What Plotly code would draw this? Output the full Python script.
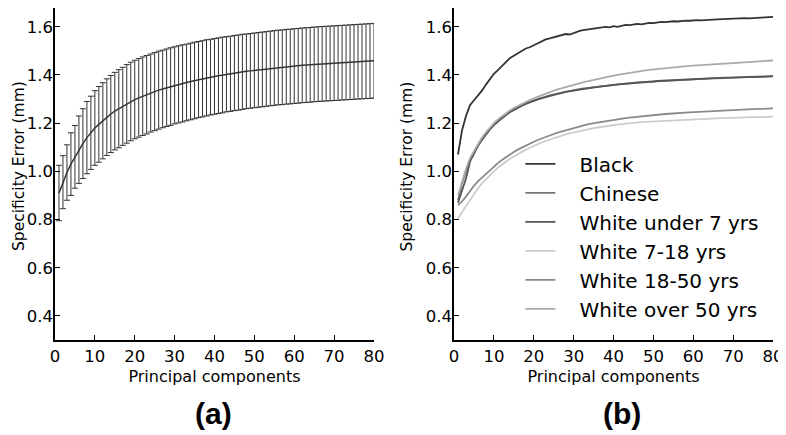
import plotly.graph_objects as go

pcs = list(range(1, 81))

mean_a = [0.91, 0.955, 0.995, 1.03, 1.06, 1.09, 1.115, 1.14, 1.16, 1.18,
          1.195, 1.21, 1.225, 1.238, 1.25, 1.26, 1.27, 1.28, 1.29, 1.298,
          1.305, 1.312, 1.318, 1.325, 1.331, 1.337, 1.342, 1.347, 1.352, 1.357,
          1.361, 1.365, 1.369, 1.373, 1.377, 1.381, 1.384, 1.388, 1.391, 1.394,
          1.397, 1.400, 1.403, 1.405, 1.408, 1.410, 1.413, 1.415, 1.417, 1.419,
          1.421, 1.423, 1.425, 1.427, 1.429, 1.431, 1.432, 1.434, 1.435, 1.437,
          1.438, 1.440, 1.441, 1.442, 1.444, 1.445, 1.446, 1.447, 1.448, 1.449,
          1.450, 1.451, 1.452, 1.453, 1.454, 1.455, 1.456, 1.457, 1.458, 1.459]

std_a = [0.115, 0.11, 0.115, 0.13, 0.13, 0.14, 0.145, 0.15, 0.152, 0.155,
         0.157, 0.158, 0.159, 0.16, 0.161, 0.162, 0.162, 0.163, 0.163, 0.163,
         0.163, 0.163, 0.163, 0.162, 0.162, 0.162, 0.161, 0.161, 0.161, 0.160,
         0.160, 0.160, 0.159, 0.159, 0.159, 0.158, 0.158, 0.158, 0.157, 0.157,
         0.157, 0.157, 0.156, 0.156, 0.156, 0.156, 0.156, 0.155, 0.155, 0.155,
         0.155, 0.155, 0.155, 0.155, 0.155, 0.155, 0.155, 0.155, 0.155, 0.155,
         0.155, 0.155, 0.155, 0.155, 0.155, 0.155, 0.155, 0.155, 0.155, 0.155,
         0.155, 0.155, 0.155, 0.155, 0.155, 0.155, 0.155, 0.155, 0.155, 0.155]

black = [1.07, 1.17, 1.23, 1.275, 1.295, 1.315, 1.335, 1.36, 1.385, 1.405,
         1.42, 1.438, 1.455, 1.47, 1.48, 1.49, 1.50, 1.51, 1.515, 1.523,
         1.53, 1.54, 1.548, 1.552, 1.556, 1.56, 1.564, 1.57, 1.568, 1.575,
         1.58, 1.585, 1.588, 1.59, 1.592, 1.595, 1.597, 1.6, 1.598, 1.603,
         1.6, 1.605, 1.608, 1.607, 1.61, 1.612, 1.61, 1.614, 1.616, 1.615,
         1.618, 1.62, 1.619, 1.622, 1.623, 1.622, 1.625, 1.626, 1.625, 1.627,
         1.628, 1.627, 1.629, 1.63, 1.63, 1.631, 1.632, 1.631, 1.633, 1.634,
         1.634, 1.635, 1.636, 1.635, 1.637, 1.638, 1.638, 1.639, 1.64, 1.641]

chinese = [0.88, 0.95, 1.0, 1.05, 1.08, 1.11, 1.135, 1.157, 1.177, 1.195,
           1.21, 1.223, 1.236, 1.247, 1.257, 1.266, 1.274, 1.281, 1.288, 1.294,
           1.3, 1.305, 1.31, 1.315, 1.319, 1.323, 1.327, 1.331, 1.334, 1.337,
           1.34, 1.343, 1.345, 1.348, 1.35, 1.352, 1.354, 1.356, 1.358, 1.36,
           1.362, 1.363, 1.365, 1.366, 1.368, 1.369, 1.37, 1.371, 1.373, 1.374,
           1.375, 1.376, 1.377, 1.378, 1.379, 1.38, 1.38, 1.381, 1.382, 1.383,
           1.383, 1.384, 1.385, 1.385, 1.386, 1.386, 1.387, 1.388, 1.388, 1.389,
           1.389, 1.39, 1.39, 1.391, 1.391, 1.392, 1.392, 1.393, 1.393, 1.394]

white_u7 = [0.87, 0.92, 0.97, 1.04, 1.075, 1.105, 1.13, 1.153, 1.174, 1.192,
            1.207, 1.221, 1.234, 1.245, 1.255, 1.264, 1.272, 1.28, 1.287, 1.293,
            1.299, 1.304, 1.309, 1.314, 1.318, 1.322, 1.326, 1.33, 1.333, 1.336,
            1.339, 1.342, 1.344, 1.347, 1.349, 1.351, 1.353, 1.356, 1.357, 1.359,
            1.361, 1.362, 1.364, 1.366, 1.367, 1.368, 1.37, 1.371, 1.372, 1.373,
            1.375, 1.376, 1.377, 1.378, 1.379, 1.38, 1.381, 1.382, 1.382, 1.383,
            1.384, 1.385, 1.385, 1.386, 1.387, 1.387, 1.388, 1.389, 1.389, 1.39,
            1.39, 1.391, 1.392, 1.391, 1.392, 1.393, 1.393, 1.394, 1.394, 1.395]

white_7_18 = [0.805, 0.83, 0.86, 0.885, 0.91, 0.93, 0.95, 0.968, 0.985, 1.0,
              1.015, 1.028, 1.04, 1.052, 1.062, 1.072, 1.082, 1.09, 1.098, 1.106,
              1.113, 1.12, 1.126, 1.132, 1.138, 1.143, 1.148, 1.153, 1.158, 1.162,
              1.166, 1.17, 1.173, 1.176, 1.179, 1.182, 1.185, 1.187, 1.19, 1.192,
              1.194, 1.196, 1.198, 1.199, 1.201, 1.202, 1.204, 1.205, 1.206, 1.207,
              1.208, 1.209, 1.21, 1.211, 1.212, 1.213, 1.214, 1.214, 1.215, 1.216,
              1.217, 1.217, 1.218, 1.219, 1.219, 1.22, 1.221, 1.221, 1.222, 1.222,
              1.223, 1.223, 1.224, 1.224, 1.225, 1.225, 1.226, 1.226, 1.227, 1.227]

white_18_50 = [0.86, 0.875, 0.895, 0.92, 0.94, 0.958, 0.974, 0.99, 1.005, 1.02,
               1.034, 1.047, 1.059, 1.07, 1.08, 1.09, 1.099, 1.108, 1.116, 1.123,
               1.13, 1.137, 1.143, 1.149, 1.155, 1.161, 1.166, 1.171, 1.176, 1.181,
               1.185, 1.189, 1.193, 1.197, 1.2, 1.203, 1.206, 1.209, 1.212, 1.214,
               1.217, 1.219, 1.221, 1.223, 1.225, 1.227, 1.229, 1.231, 1.232, 1.234,
               1.235, 1.237, 1.238, 1.239, 1.241, 1.242, 1.243, 1.244, 1.245, 1.246,
               1.247, 1.248, 1.249, 1.25, 1.251, 1.252, 1.253, 1.253, 1.254, 1.255,
               1.256, 1.256, 1.257, 1.258, 1.258, 1.259, 1.259, 1.26, 1.26, 1.261]

white_o50 = [0.9, 0.96, 1.01, 1.055, 1.085, 1.115, 1.14, 1.162, 1.182, 1.2,
             1.215, 1.229, 1.242, 1.253, 1.263, 1.272, 1.28, 1.288, 1.296, 1.303,
             1.31, 1.317, 1.323, 1.329, 1.335, 1.34, 1.345, 1.35, 1.355, 1.36,
             1.364, 1.368, 1.372, 1.376, 1.38, 1.384, 1.387, 1.39, 1.394, 1.397,
             1.4, 1.403, 1.406, 1.409, 1.412, 1.415, 1.417, 1.419, 1.421, 1.423,
             1.425, 1.427, 1.429, 1.431, 1.432, 1.434, 1.435, 1.437, 1.438, 1.439,
             1.44, 1.442, 1.443, 1.444, 1.445, 1.446, 1.447, 1.448, 1.449, 1.45,
             1.451, 1.452, 1.453, 1.454, 1.455, 1.456, 1.457, 1.458, 1.459, 1.46]

series_names = ["Black", "Chinese", "White under 7 yrs", "White 7-18 yrs",
                "White 18-50 yrs", "White over 50 yrs"]
series_values = [black, chinese, white_u7, white_7_18, white_18_50, white_o50]
series_colors = ["#333333", "#777777", "#555555", "#cccccc", "#8a8a8a", "#aaaaaa"]

x_ticks = [0, 10, 20, 30, 40, 50, 60, 70, 80]
y_ticks = [0.4, 0.6, 0.8, 1.0, 1.2, 1.4, 1.6]
y_tick_text = ["0.4", "0.6", "0.8", "1.0", "1.2", "1.4", "1.6"]

FONT = "DejaVu Sans"
PAD = "\u00a0\u00a0\u00a0"
Y_TITLE = "Specificity Error (mm)"

fig = go.Figure()

fig.add_trace(go.Scatter(
    x=pcs, y=mean_a, mode="lines",
    line=dict(color="#333333", width=1.5),
    error_y=dict(type="data", array=std_a, visible=True,
                 color="#333333", thickness=1, width=3),
    showlegend=False, xaxis="x", yaxis="y"))

for name, vals, col in zip(series_names, series_values, series_colors):
    fig.add_trace(go.Scatter(
        x=pcs, y=vals, mode="lines", name=PAD + name,
        line=dict(color=col, width=1.8),
        xaxis="x2", yaxis="y2"))

axis_common = dict(
    showline=True, linecolor="black", linewidth=1.5,
    ticks="inside", ticklen=5, tickwidth=1, tickcolor="black",
    showgrid=False, zeroline=False, mirror=False, automargin=False,
    tickfont=dict(family=FONT, size=16.5, color="black"),
)

xcommon = dict(axis_common, range=[0, 80], tickvals=x_ticks,
               title=dict(text="Principal components",
                          font=dict(family=FONT, size=16, color="black"),
                          standoff=6))
ycommon = dict(axis_common, range=[0.3, 1.678], tickvals=y_ticks,
               ticktext=y_tick_text, ticklabelstandoff=-3)

title_font = dict(family=FONT, size=15.5, color="black")

fig.update_layout(
    width=778, height=427,
    margin=dict(l=0, r=0, t=0, b=0),
    paper_bgcolor="white", plot_bgcolor="white",
    xaxis=dict(xcommon, domain=[0.0604, 0.4704], anchor="y"),
    yaxis=dict(ycommon, domain=[0.2225, 1.0], anchor="x"),
    xaxis2=dict(xcommon, domain=[0.5733, 0.9833], anchor="y2"),
    yaxis2=dict(ycommon, domain=[0.2225, 1.0], anchor="x2"),
    legend=dict(x=0.6586, y=0.6806, xanchor="left", yanchor="top",
                font=dict(family=FONT, size=20, color="black"),
                bgcolor="rgba(0,0,0,0)", itemwidth=30),
    annotations=[
        dict(text=Y_TITLE, x=0.0, y=0.630, xref="paper", yref="paper",
             xanchor="left", yanchor="middle", textangle=-90, showarrow=False,
             font=title_font),
        dict(text=Y_TITLE, x=0.5122, y=0.630, xref="paper", yref="paper",
             xanchor="center", yanchor="middle", textangle=-90, showarrow=False,
             font=title_font),
        dict(text="<b>(a)</b>", x=0.2635, y=0.0515, xref="paper", yref="paper",
             xanchor="center", yanchor="middle", showarrow=False,
             font=dict(family="Liberation Sans", size=30, color="black")),
        dict(text="<b>(b)</b>", x=0.789, y=0.0515, xref="paper", yref="paper",
             xanchor="center", yanchor="middle", showarrow=False,
             font=dict(family="Liberation Sans", size=30, color="black")),
    ],
)

fig.write_html("out.html")
